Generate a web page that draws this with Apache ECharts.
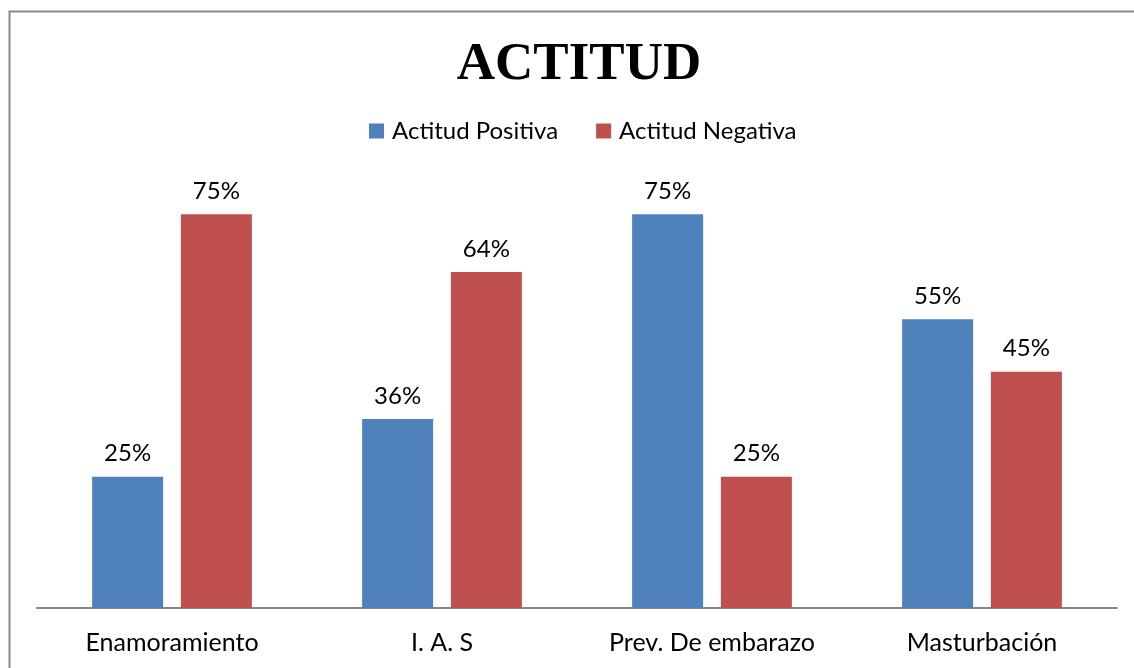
<!DOCTYPE html>
<html>
<head>
<meta charset="utf-8">
<script src="https://cdn.jsdelivr.net/npm/echarts@6/dist/echarts.min.js"></script>
<style>html,body{margin:0;padding:0;background:#fff;}#c{width:1134px;height:668px;}</style>
</head>
<body>
<div id="c"></div>
<script>
const categories = ['Enamoramiento', 'I. A. S', 'Prev. De embarazo', 'Masturbación'];
const positiva = [25, 36, 75, 55];
const negativa = [75, 64, 25, 45];
const seriesNames = ['Actitud Positiva', 'Actitud Negativa'];

const chart = echarts.init(document.getElementById('c'));
const font = 'Lato, "Open Sans", sans-serif';
const lbl = {show: true, position: 'top', distance: 11, formatter: '{c}%', color: '#000', fontSize: 24, fontFamily: font};
chart.setOption({
  animation: false,
  backgroundColor: '#fff',
  graphic: [{type: 'rect', left: 7, top: 9, shape: {width: 1140, height: 700}, style: {fill: 'none', stroke: '#898989', lineWidth: 2}, silent: true}],
  title: {text: 'ACTITUD', left: 574, top: 34, textAlign: 'center',
    textStyle: {fontFamily: '"Liberation Serif", "Times New Roman", serif', fontWeight: 'bold', fontSize: 53, color: '#000'}},
  legend: {top: 119, left: 369, itemWidth: 15, itemHeight: 15, itemGap: 38, icon: 'rect', padding: 0,
    textStyle: {fontSize: 24, fontFamily: font, color: '#000', padding: [0, 0, 0, 3]}, data: seriesNames},
  grid: {left: 37, right: 17, top: 188, bottom: 60, containLabel: false},
  xAxis: {type: 'category', data: categories,
    axisLine: {lineStyle: {color: '#868686', width: 2}}, axisTick: {show: false},
    axisLabel: {color: '#000', fontSize: 25, fontFamily: font, margin: 22}},
  yAxis: {type: 'value', min: 0, max: 80, show: false, splitLine: {show: false}},
  series: [
    {name: seriesNames[0], type: 'bar', data: positiva, barWidth: 71, barGap: '25%', itemStyle: {color: '#4F81BD'}, label: lbl},
    {name: seriesNames[1], type: 'bar', data: negativa, barWidth: 71, itemStyle: {color: '#C0504D'}, label: lbl}
  ]
});
</script>
</body>
</html>
